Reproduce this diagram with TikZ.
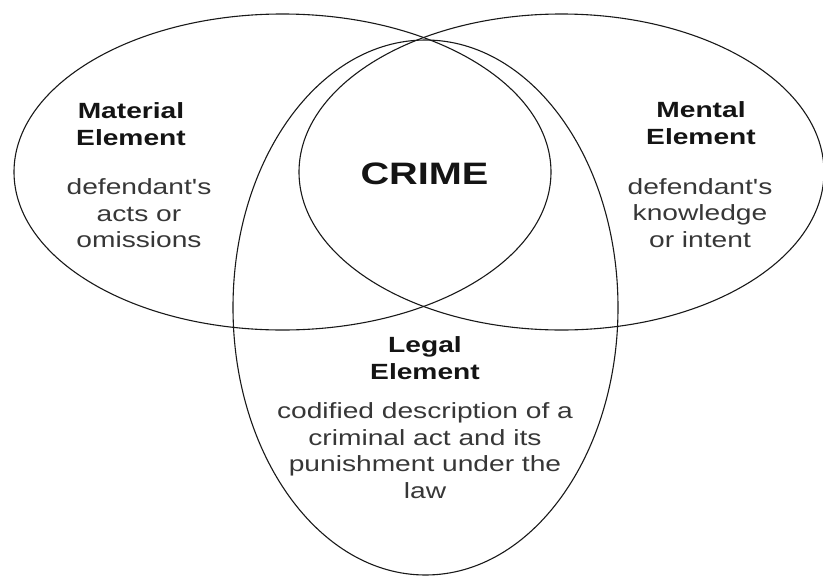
\documentclass[tikz,border=0pt]{standalone}
\usepackage{fontspec}
\setmainfont{Liberation Sans}[FakeStretch=1.28, Ligatures=TeXOff]
\begin{document}
\begin{tikzpicture}[x=1pt, y=-1pt, line width=1.1pt]
    % colours of lines and text
    \definecolor{lineblack}{RGB}{25,25,25}
    \definecolor{headblack}{RGB}{20,20,20}
    \definecolor{bodygray}{RGB}{55,55,55}
    \tikzset{
        headtext/.style={font=\bfseries\fontsize{22}{26.5}\selectfont, text=headblack,
            align=center, inner sep=0pt, anchor=base},
        bodytext/.style={font=\fontsize{22}{26.5}\selectfont, text=bodygray,
            align=center, inner sep=0pt, anchor=base},
    }
    \useasboundingbox (0,0) rectangle (823,576);

    % 1. The three ellipses
    \draw[lineblack] (282.5,172) ellipse [x radius=268.5, y radius=158];
    \draw[lineblack] (561.5,172) ellipse [x radius=262.5, y radius=158];
    \draw[lineblack] (425.5,307.5) ellipse [x radius=192.5, y radius=267.5];

    % 2. Labels (anchor base = baseline of the last line)
    \node[headtext] (materialhead) at (131,145) {Material\\Element};
    \node[bodytext] (materialbody) at (139,247.5) {defendant's\\acts or\\omissions};

    \node[headtext] (mentalhead) at (701,144) {Mental\\Element};
    \node[bodytext] (mentalbody) at (700,247) {defendant's\\knowledge\\or intent};

    \node[headtext, font=\bfseries\fontsize{31}{35}\selectfont] (crime) at (424.5,184) {CRIME};

    \node[headtext] (legalhead) at (425,379) {Legal\\Element};
    \node[bodytext] (legalbody) at (425,498)
        {codified description of a\\criminal act and its\\punishment under the\\law};
\end{tikzpicture}
\end{document}
